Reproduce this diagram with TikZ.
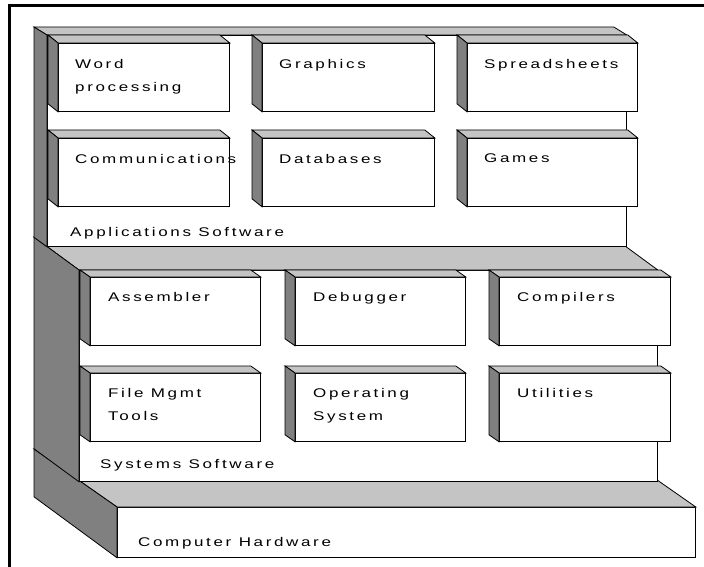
\documentclass[tikz,border=0pt]{standalone}
\usepackage{fontspec}
\usepackage{tikz}
\newfontfamily\labelfont[FakeStretch=1.35,LetterSpace=21]{Liberation Sans}
\definecolor{wallgray}{HTML}{808080}
\definecolor{bandgray}{HTML}{C4C4C4}
\tikzset{
  sidewall/.style={fill=wallgray, draw=black, line width=0.8pt},
  topband/.style={fill=bandgray, draw=black, line width=0.8pt},
  panel/.style={rectangle, fill=white, draw=black, line width=0.8pt,
    inner sep=0pt, anchor=north west},
  boxfront/.style={rectangle, fill=white, draw=black, line width=0.8pt,
    inner sep=0pt, minimum height=68, anchor=north west},
  boxtext/.style={inner sep=0pt, anchor=north west, align=left,
    font=\labelfont\fontsize{12.6}{23}\selectfont},
}

\begin{document}
\begin{tikzpicture}[x=1pt, y=-1pt]
  \useasboundingbox (0,0) rectangle (704,567);
  \draw[line width=3pt] (9,567) -- (9,6) -- (704,6);

  % hardware shelf
  \node[panel, minimum width=578, minimum height=50] (hware) at (117,507) {};
  \draw[topband] ([shift={(-83,-58)}]hware.north west) -- ([shift={(-83,-58)}]hware.north east)
    -- (hware.north east) -- (hware.north west) -- cycle;
  \draw[sidewall] ([shift={(-83,-58)}]hware.north west) -- (hware.north west)
    -- (hware.south west) -- ([shift={(-83,-61)}]hware.south west) -- cycle;
  \node[boxtext] (hware-t) at ([shift={(21,-21)}]hware.south west) {Computer Hardware};

  % systems shelf
  \node[panel, minimum width=578, minimum height=211] (syst) at (79,270) {};
  \draw[topband] ([shift={(-45,-33)}]syst.north west) -- ([shift={(-45,-33)}]syst.north east)
    -- (syst.north east) -- (syst.north west) -- cycle;
  \draw[sidewall] ([shift={(-45,-33)}]syst.north west) -- (syst.north west)
    -- (syst.south west) -- ([shift={(-45,-33)}]syst.south west) -- cycle;
  \node[boxtext] (syst-t) at ([shift={(21,-23)}]syst.south west) {Systems Software};
  \foreach \nm/\x/\y/\w/\txt in {assembler/90/277/170/Assembler, debugger/295/277/170/Debugger,
      compilers/499/277/171/Compilers, filemgmt/90/373/170/{File Mgmt\\Tools},
      opsys/295/373/170/{Operating\\System}, utilities/499/373/171/Utilities}{
    \node[boxfront, minimum width=\w] (\nm) at (\x,\y) {};
    \draw[topband] ([shift={(-10,-7)}]\nm.north west) -- ([shift={(-10,-7)}]\nm.north east)
      -- (\nm.north east) -- (\nm.north west) -- cycle;
    \draw[sidewall] ([shift={(-10,-7)}]\nm.north west) -- (\nm.north west)
      -- (\nm.south west) -- ([shift={(-10,-7)}]\nm.south west) -- cycle;
    \node[boxtext] (\nm-t) at ([shift={(18,15)}]\nm.north west) {\txt};
  }

  % applications shelf
  \node[panel, minimum width=579, minimum height=211] (apps) at (47,35) {};
  \draw[topband] ([shift={(-13,-8)}]apps.north west) -- ([shift={(-13,-8)}]apps.north east)
    -- (apps.north east) -- (apps.north west) -- cycle;
  \draw[sidewall] ([shift={(-13,-8)}]apps.north west) -- (apps.north west)
    -- (apps.south west) -- ([shift={(-13,-9.5)}]apps.south west) -- cycle;
  \node[boxtext] (apps-t) at ([shift={(23,-20)}]apps.south west) {Applications Software};
  \foreach \nm/\x/\y/\w/\txt in {word/58/43/171/{Word\\processing}, graphics/262/43/172/Graphics,
      spread/467/43/170/Spreadsheets, comms/58/138/171/Communications,
      dbases/262/138/172/Databases, games/467/138/170/Games}{
    \node[boxfront, minimum width=\w] (\nm) at (\x,\y) {};
    \draw[topband] ([shift={(-10,-8)}]\nm.north west) -- ([shift={(-10,-8)}]\nm.north east)
      -- (\nm.north east) -- (\nm.north west) -- cycle;
    \draw[sidewall] ([shift={(-10,-8)}]\nm.north west) -- (\nm.north west)
      -- (\nm.south west) -- ([shift={(-10,-8)}]\nm.south west) -- cycle;
    \node[boxtext] (\nm-t) at ([shift={(17,16)}]\nm.north west) {\txt};
  }
\end{tikzpicture}
\end{document}
